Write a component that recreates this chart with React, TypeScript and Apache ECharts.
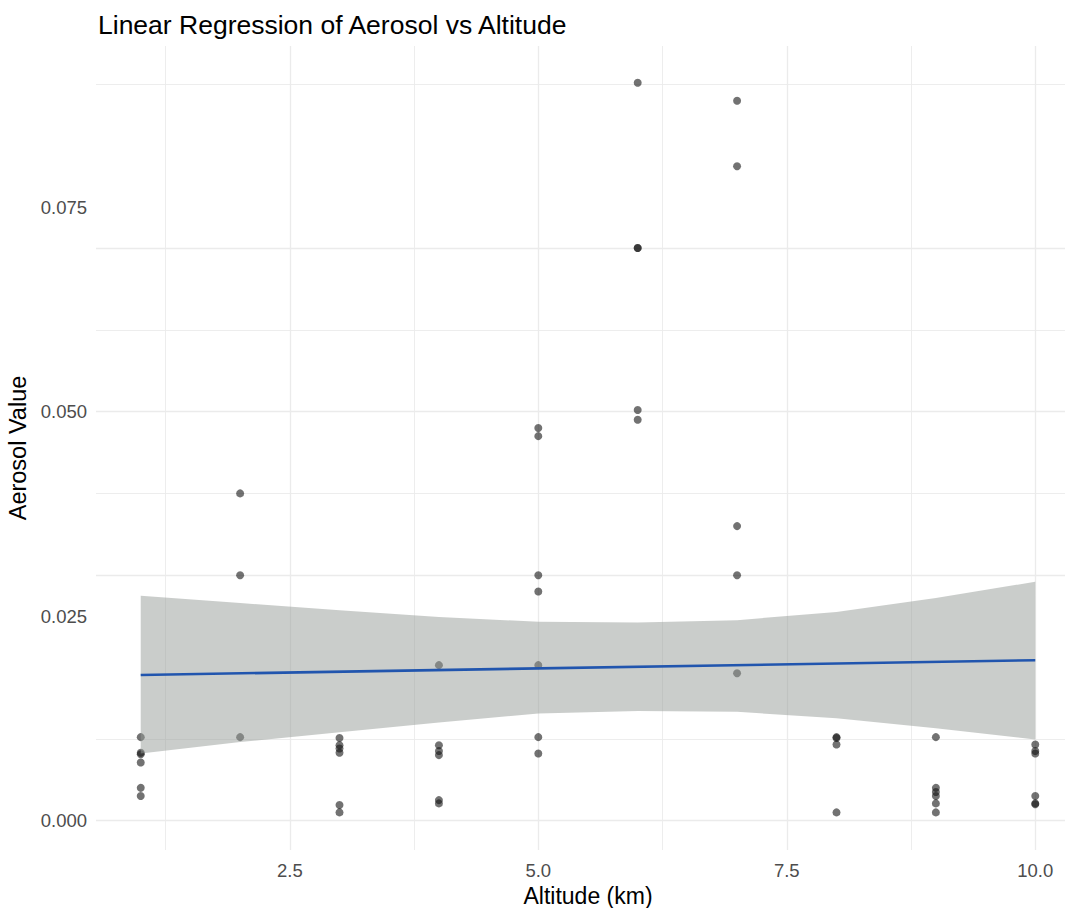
import React, { useEffect, useRef } from "react";
import * as echarts from "echarts";

// Observed aerosol values per altitude (km)
const altitudeKm = [1, 2, 3, 4, 5, 6, 7, 8, 9, 10];
const aerosolAt1 = [0.0102, 0.0083, 0.0081, 0.0071, 0.004, 0.003];
const aerosolAt2 = [0.04, 0.03, 0.0102];
const aerosolAt3 = [0.0101, 0.0092, 0.0088, 0.0083, 0.0019, 0.001];
const aerosolAt4 = [0.019, 0.0092, 0.0085, 0.008, 0.0025, 0.0021];
const aerosolAt5 = [0.048, 0.047, 0.03, 0.028, 0.019, 0.0102, 0.0082];
const aerosolAt6 = [0.0902, 0.07, 0.07, 0.0502, 0.049];
const aerosolAt7 = [0.088, 0.08, 0.036, 0.03, 0.018];
const aerosolAt8 = [0.0102, 0.0101, 0.0093, 0.001];
const aerosolAt9 = [0.0102, 0.004, 0.0035, 0.003, 0.0021, 0.001];
const aerosolAt10 = [0.0093, 0.0085, 0.0082, 0.003, 0.0021, 0.002];
const aerosolGroups = [
  aerosolAt1, aerosolAt2, aerosolAt3, aerosolAt4, aerosolAt5,
  aerosolAt6, aerosolAt7, aerosolAt8, aerosolAt9, aerosolAt10,
];

// Fitted line and confidence band
const fitX = [1, 10];
const fitY = [0.0178, 0.0196];
const bandX = [1, 2, 3, 4, 5, 6, 7, 8, 9, 10];
const bandUpper = [0.0275, 0.0266, 0.0257, 0.0249, 0.0243, 0.0242, 0.0245, 0.0255, 0.0272, 0.0292];
const bandLower = [0.0082, 0.0096, 0.0108, 0.012, 0.0131, 0.0134, 0.0133, 0.0125, 0.0113, 0.0099];

// Ticks and gridlines
const xTicks = [2.5, 5, 7.5, 10];
const xMinor = [1.25, 3.75, 6.25, 8.75];
const yTicks = [0, 0.025, 0.05, 0.075];
const yMinor = [0.0125, 0.0375, 0.0625, 0.0875];

const FONT = "'Liberation Sans', Arial, sans-serif";

export default function App() {
  const ref = useRef<HTMLDivElement>(null);

  useEffect(() => {
    document.body.style.margin = "0";
    document.body.style.overflow = "hidden";
    if (!ref.current) return;
    const chart = echarts.init(ref.current, null, { renderer: "svg" });

    const points: number[][] = [];
    aerosolGroups.forEach((vals, i) => {
      vals.forEach((v) => points.push([altitudeKm[i], v]));
    });

    const gridColor = "#ebebeb";
    const markData: any[] = [];
    yTicks.forEach((v) => markData.push({ yAxis: v, lineStyle: { color: gridColor, width: 1.3, type: "solid" } }));
    yMinor.forEach((v) => markData.push({ yAxis: v, lineStyle: { color: gridColor, width: 0.9, type: "solid" } }));
    xTicks.forEach((v) => markData.push({ xAxis: v, lineStyle: { color: gridColor, width: 1.3, type: "solid" } }));
    xMinor.forEach((v) => markData.push({ xAxis: v, lineStyle: { color: gridColor, width: 0.9, type: "solid" } }));

    chart.setOption({
      animation: false,
      backgroundColor: "#ffffff",
      textStyle: { fontFamily: FONT },
      title: {
        text: "Linear Regression of Aerosol vs Altitude",
        left: 93,
        top: 6,
        textStyle: { fontFamily: FONT, fontSize: 26.5, fontWeight: "normal", color: "#000000" },
      },
      grid: { left: 96, right: -15, top: 46, bottom: 58, containLabel: false, outerBoundsMode: "none" },
      xAxis: {
        type: "value",
        min: 0.55,
        max: 10.45,
        name: "Altitude (km)",
        nameLocation: "middle",
        nameGap: 30,
        nameTextStyle: { fontFamily: FONT, fontSize: 23, color: "#000000" },
        axisLine: { show: false },
        axisTick: { show: false },
        splitLine: { show: false },
        axisLabel: {
          customValues: xTicks,
          formatter: (v: number) => v.toFixed(1),
          fontFamily: FONT,
          fontSize: 18.5,
          color: "#4d4d4d",
          margin: 11,
        },
      },
      yAxis: {
        type: "value",
        min: -0.0036,
        max: 0.0947,
        name: "Aerosol Value",
        nameLocation: "middle",
        nameGap: 62,
        nameTextStyle: { fontFamily: FONT, fontSize: 23.5, color: "#000000" },
        axisLine: { show: false },
        axisTick: { show: false },
        splitLine: { show: false },
        axisLabel: {
          customValues: yTicks,
          formatter: (v: number) => v.toFixed(3),
          fontFamily: FONT,
          fontSize: 18.5,
          color: "#4d4d4d",
          margin: 9,
        },
      },
      series: [
        {
          type: "line",
          data: [],
          z: 1,
          silent: true,
          markLine: {
            z: 1,
            silent: true,
            symbol: ["none", "none"],
            label: { show: false },
            emphasis: { disabled: true },
            animation: false,
            data: markData,
          },
        },
        {
          type: "scatter",
          data: points,
          symbolSize: 8,
          z: 2,
          itemStyle: { color: "rgba(20,20,20,0.75)" },
        },
        {
          type: "custom",
          z: 3,
          silent: true,
          data: [[bandX[0], bandUpper[0]]],
          renderItem: (params: any, api: any) => {
            const pts: number[][] = [];
            for (let i = 0; i < bandX.length; i++) pts.push(api.coord([bandX[i], bandUpper[i]]));
            for (let i = bandX.length - 1; i >= 0; i--) pts.push(api.coord([bandX[i], bandLower[i]]));
            return {
              type: "polygon",
              shape: { points: pts },
              style: { fill: "rgba(150,155,152,0.5)", stroke: "none" },
            };
          },
        },
        {
          type: "line",
          z: 4,
          data: fitX.map((x, i) => [x, fitY[i]]),
          showSymbol: false,
          silent: true,
          lineStyle: { color: "#2155ae", width: 2.6 },
        },
      ],
    });

    return () => chart.dispose();
  }, []);

  return <div ref={ref} style={{ width: 1065, height: 908 }} />;
}
